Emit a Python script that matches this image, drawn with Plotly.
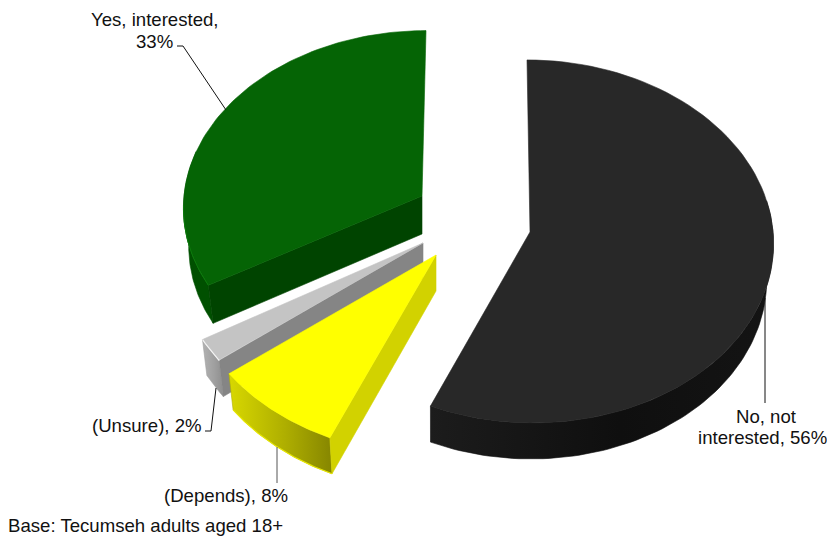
import numpy as np
import plotly.graph_objects as go

categories = ["No, not interested", "(Depends)", "(Unsure)", "Yes, interested"]
values = [56, 8, 2, 33]

# apex_x, apex_y, radius_x, radius_y, skew, bottom_scale_origin, bottom_scale, depth
GEOM = {
    "No, not interested": (530, 232, 243, 181, 3, 433, 0.98, 36),
    "(Depends)": (436, 255, 252, 190, 0, 436, 0.98, 36),
    "(Unsure)": (423, 243, 248, 188, 0, 423, 0.98, 36),
    "Yes, interested": (422, 196, 238, 174, -4, 422, 0.978, 38),
}
STYLE = {
    "No, not interested": dict(top="#282828", cut="#1a1a1a", wall=("#1c1c1c", "#0f0f0f", "#141414")),
    "(Depends)": dict(top="#ffff00", cut="#d2d200", wall=("#d8d800", "#aeae00", "#868600")),
    "(Unsure)": dict(top="#c4c4c4", cut="#858585", wall=("#b2b2b2", "#a0a0a0", "#8e8e8e")),
    "Yes, interested": dict(top="#056405", cut="#004400", wall=("#005000", "#005000", "#005000")),
}
PERSP = 0.052

fig = go.Figure()


def project(name, theta):
    ax, ay, rx, ry, sk = GEOM[name][:5]
    u, v = np.sin(theta), -np.cos(theta)
    w = 1 - PERSP * v
    return ax + rx * u / w + sk * v, ay + ry * v / w


def lower(name, x, y):
    ox, s, depth = GEOM[name][5:]
    return ox + (np.asarray(x) - ox) * s, np.asarray(y) + depth


def poly(x, y, color, gradient=None, line=None, lw=0.6):
    x = list(x) + [x[0]]
    y = list(y) + [y[0]]
    kw = dict(fillcolor=color)
    if gradient:
        kw = dict(fillgradient=dict(type="horizontal",
                                    colorscale=[[0, gradient[0]], [0.55, gradient[1]], [1, gradient[2]]]))
    fig.add_trace(go.Scatter(x=x, y=y, mode="lines", fill="toself",
                             line=dict(color=line or color, width=lw),
                             hoverinfo="skip", showlegend=False, **kw))


def draw_slice(name, a0, a1, cut_at_end, wall_from=None, wall_to=None):
    ax, ay = GEOM[name][:2]
    st = STYLE[name]
    th = np.linspace(a0, a1, 90)
    tx, ty = project(name, th)
    wth = np.linspace(a0 if wall_from is None else wall_from, a1 if wall_to is None else wall_to, 90)
    wx, wy = project(name, wth)
    bx, by = lower(name, wx, wy)
    # outer wall
    poly(list(wx) + list(bx[::-1]), list(wy) + list(by[::-1]),
         st["wall"][1], gradient=st["wall"], line=st["wall"][1])
    # cut face
    if cut_at_end is not None:
        ex, ey = project(name, cut_at_end)
        ebx, eby = lower(name, ex, ey)
        abx, aby = lower(name, ax, ay)
        poly([ax, ex, ebx, abx], [ay, ey, eby, aby], st["cut"])
    # top face
    poly([ax] + list(tx), [ay] + list(ty), st["top"])
    return tx, ty


total = sum(values)
angles = np.cumsum([0] + values) / total * 2 * np.pi
ang = {c: (angles[i], angles[i + 1]) for i, c in enumerate(categories)}

# painted back to front
a0, a1 = ang["Yes, interested"]
px, py = draw_slice("Yes, interested", a0, a1, a0, wall_to=np.radians(285))
m = py > 205
fig.add_trace(go.Scatter(x=px[m], y=py[m], mode="lines", line=dict(color="#0b7a0b", width=1),
                         hoverinfo="skip", showlegend=False))

a0, a1 = ang["(Unsure)"]
px, py = draw_slice("(Unsure)", a0, a1, a0)
fig.add_trace(go.Scatter(x=px, y=py, mode="lines", line=dict(color="#f4f4f4", width=1.2),
                         hoverinfo="skip", showlegend=False))

a0, a1 = ang["(Depends)"]
px, py = draw_slice("(Depends)", a0, a1, a0)
bx, by = lower("(Depends)", px, py)
fig.add_trace(go.Scatter(x=bx, y=by, mode="lines", line=dict(color="#e6e600", width=1.2),
                         hoverinfo="skip", showlegend=False))

a0, a1 = ang["No, not interested"]
px, py = draw_slice("No, not interested", a0, a1, None, wall_from=np.radians(80))

# leader lines
LEADERS = [
    ([177, 183, 226], [46, 46, 110], "#111111"),
    ([765, 765], [298, 403], "#111111"),
    ([205, 211, 216], [431, 431, 388], "#111111"),
    ([277, 277], [447, 483], "#555555"),
]
for lx, ly, c in LEADERS:
    fig.add_trace(go.Scatter(x=lx, y=ly, mode="lines", line=dict(color=c, width=1),
                             hoverinfo="skip", showlegend=False))

FONT = dict(family="Liberation Sans, Arial, sans-serif", size=18.6, color="#111111")
LABELS = [
    ("Yes, interested,", 155, 19, "center", 0),
    ("33%", 154, 41, "center", 0),
    ("No, not", 766, 416, "center", 0),
    ("interested, 56%", 762, 437, "center", 0),
    ("(Unsure), 2%", 204, 425, "right", 0),
    ("(Depends), 8%", 290, 495, "right", 0),
    ("Base: Tecumseh adults aged 18+", 8, 525, "left", -2),
]
for text, x, y, anchor, shift in LABELS:
    fig.add_annotation(x=x, y=y, text=text, showarrow=False, xanchor=anchor, yanchor="middle",
                       xshift=shift, align=anchor, font=FONT, xref="x", yref="y")

# the page adds an 8 px margin at top and left, so the figure covers the rest of the window
fig.update_layout(
    width=827, height=529, margin=dict(l=0, r=0, t=0, b=0),
    paper_bgcolor="white", plot_bgcolor="white", showlegend=False,
    xaxis=dict(range=[8, 835], visible=False, fixedrange=True),
    yaxis=dict(range=[537, 8], visible=False, fixedrange=True),
)
fig.write_html("out.html")
